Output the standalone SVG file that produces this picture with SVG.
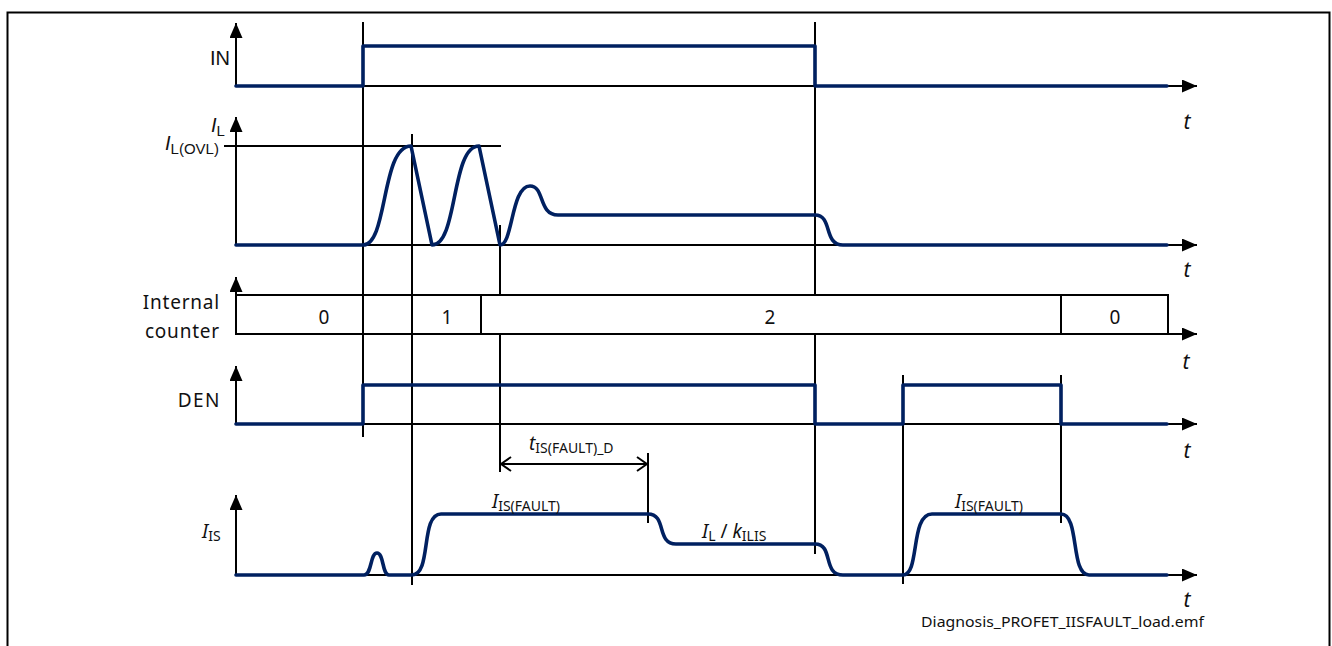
<svg xmlns="http://www.w3.org/2000/svg" width="1332" height="646" viewBox="0 0 1332 646">
<defs>
<style>
.ax{stroke:#000;stroke-width:2;fill:none}
.mk{stroke:#000;stroke-width:2;fill:none}
.wv{stroke:#002060;stroke-width:3.6;fill:none;stroke-linejoin:round;stroke-linecap:round}
.lb{font-family:"Noto Sans","Open Sans",sans-serif;font-size:19px;fill:#111}
.ar{font-family:"Liberation Sans",Arial,sans-serif;font-size:20px;fill:#111}
.it{font-style:italic}
.sb{font-size:14px}
.tt{font-family:"Noto Sans","Open Sans",sans-serif;font-size:21px;font-style:italic;fill:#111;text-anchor:middle}
</style>
<marker id="ah" viewBox="0 0 15 13" refX="15" refY="6.5" markerWidth="15" markerHeight="13" orient="auto" markerUnits="userSpaceOnUse"><path d="M0,0 L15,6.5 L0,13 Z" fill="#000"/></marker>
<marker id="ch" viewBox="0 0 12 16" refX="11" refY="8" markerWidth="12" markerHeight="16" orient="auto-start-reverse" markerUnits="userSpaceOnUse"><path d="M1,1 L11,8 L1,15" fill="none" stroke="#000" stroke-width="2"/></marker>
</defs>
<rect x="7.5" y="12.5" width="1322" height="645" fill="#fff" stroke="#000" stroke-width="2"/>

<g id="connectors">
<path class="ax" d="M236,86 V23" marker-end="url(#ah)"/>
<path class="ax" d="M236,86 H1197" marker-end="url(#ah)"/>
<path class="ax" d="M236,245 V117" marker-end="url(#ah)"/>
<path class="ax" d="M236,245 H1197" marker-end="url(#ah)"/>
<path class="ax" d="M236,334 V277" marker-end="url(#ah)"/>
<path class="ax" d="M236,334 H1197" marker-end="url(#ah)"/>
<path class="ax" d="M236,424 V366" marker-end="url(#ah)"/>
<path class="ax" d="M236,424 H1197" marker-end="url(#ah)"/>
<path class="ax" d="M236,575 V495" marker-end="url(#ah)"/>
<path class="ax" d="M236,575 H1197" marker-end="url(#ah)"/>
<path class="mk" d="M224,146 H501"/>
<path class="mk" d="M363,22 V437"/>
<path class="mk" d="M412,134 V585"/>
<path class="mk" d="M500,225 V472"/>
<path class="mk" d="M648,453 V523"/>
<path class="mk" d="M815,22 V554"/>
<path class="mk" d="M903,375 V584"/>
<path class="mk" d="M1061,375 V523"/>
<path class="mk" d="M501,464 H647" marker-start="url(#ch)" marker-end="url(#ch)"/>
</g>

<g id="counter">
<rect x="236" y="295" width="932" height="39" fill="#fff" stroke="#000" stroke-width="2"/>
<path class="mk" d="M363,295 V334 M412,295 V334 M481,295 V334 M1061,295 V334"/>
<text class="lb" x="324" y="324" text-anchor="middle">0</text>
<text class="lb" x="447" y="324" text-anchor="middle">1</text>
<text class="lb" x="770" y="324" text-anchor="middle">2</text>
<text class="lb" x="1115" y="324" text-anchor="middle">0</text>
<text class="lb" x="220" y="309" text-anchor="end" letter-spacing="0.8">Internal</text>
<text class="lb" x="220" y="338" text-anchor="end" letter-spacing="0.8">counter</text>
</g>

<g id="IN">
<path class="wv" d="M236,86 H363 V46 H815 V86 H1167"/>
<text class="ar" x="230" y="65" text-anchor="end">IN</text>
<text class="tt" x="1187" y="129">t</text>
</g>

<g id="IL">
<path class="wv" d="M236,245 H363 C388,245 381,146 411,146 L432,245 C458,245 451,146 479,146 L500,245 C513,245 511,186 530,186 C545,186 538,215 558,215 H815 C833,215 823,245 843,245 H1167"/>
<text class="ar" x="211" y="132"><tspan class="it">I</tspan><tspan font-size="15" dy="4">L</tspan></text>
<text class="ar" x="165" y="150"><tspan class="it">I</tspan><tspan font-size="15" dy="4">L(OVL)</tspan></text>
<text class="tt" x="1187" y="277">t</text>
</g>

<g id="CNT_t">
<text class="tt" x="1186" y="369">t</text>
</g>

<g id="DEN">
<path class="wv" d="M236,424 H363 V385 H815 V424 H903 V385 H1061 V424 H1167"/>
<text class="lb" x="221" y="407" text-anchor="end" letter-spacing="1.5">DEN</text>
<text class="tt" x="1187" y="458">t</text>
</g>

<g id="tISD">
<text class="lb" x="529" y="450"><tspan class="it">t</tspan><tspan class="sb" dy="3">IS(FAULT)_D</tspan></text>
</g>

<g id="IS">
<path class="wv" d="M236,575 H364 C372,575 370,553 377,553 C384,553 382,575 389,575 H412 C432,575 420,514 441,514 H648 C667,514 656,544 676,544 H815 C834,544 822,575 843,575 H903 C920,575 910,514 932,514 H1061 C1080,514 1070,575 1089,575 H1167"/>
<text class="lb" x="202" y="538"><tspan class="it">I</tspan><tspan class="sb" dy="3">IS</tspan></text>
<text class="lb" x="492" y="508"><tspan class="it">I</tspan><tspan class="sb" dy="3">IS(FAULT)</tspan></text>
<text class="lb" x="955" y="508"><tspan class="it">I</tspan><tspan class="sb" dy="3">IS(FAULT)</tspan></text>
<text class="lb" x="702" y="538"><tspan class="it">I</tspan><tspan class="sb" dy="3">L</tspan><tspan dy="-3"> / </tspan><tspan class="it">k</tspan><tspan class="sb" dy="3">ILIS</tspan></text>
<text class="tt" x="1187" y="607">t</text>
</g>

<text x="921" y="627" font-family="Noto Sans, Open Sans, sans-serif" font-size="14" fill="#111" textLength="283" lengthAdjust="spacingAndGlyphs">Diagnosis_PROFET_IISFAULT_load.emf</text>
</svg>
